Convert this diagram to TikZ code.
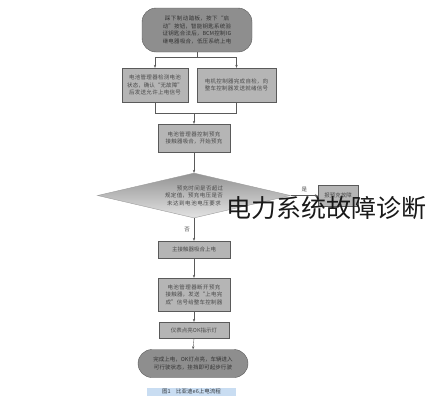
\documentclass[tikz,border=0pt]{standalone}
\usepackage{fontspec}
\newfontfamily\cjk{Noto Sans CJK SC}
\XeTeXlinebreaklocale "zh"
\XeTeXlinebreakskip=0pt plus 1pt
\usetikzlibrary{shapes.geometric,arrows.meta}
\definecolor{boxfill}{HTML}{B5B5B5}
\definecolor{termfill}{HTML}{8E8E8E}
\definecolor{edgegray}{HTML}{5A5A5A}
\definecolor{textgray}{HTML}{4A4A4A}
\definecolor{capblue}{HTML}{C9DDF2}
\tikzstyle{every node}=[font=\cjk\fontsize{5.5}{7.5}\selectfont, text=textgray, align=center]
\tikzstyle{procbox}=[rectangle, draw=edgegray, fill=boxfill, inner sep=1pt]
\tikzstyle{termbox}=[rectangle, rounded corners=14pt, draw=edgegray, fill=termfill, text=black!80, inner sep=1pt]
\tikzstyle{decbox}=[diamond, draw=edgegray!60, top color=gray!85, bottom color=gray!22, aspect=4, inner sep=0pt, text width=66pt, minimum width=193pt, minimum height=45pt]
\tikzstyle{flow}=[-{Stealth[length=3pt,width=2.4pt]}, draw=edgegray]

\begin{document}
\begin{tikzpicture}[x=1pt, y=-1pt, thin]
\useasboundingbox (0,0) rectangle (428,400);
% Boxes
    \node[termbox, minimum width=110pt, minimum height=44pt, text width=74pt] (start) at (197,30) {踩下制动踏板，按下“启动”按钮，智能钥匙系统验证钥匙合法后，BCM控制IG继电器吸合，低压系统上电};
    \node[procbox, minimum width=66pt, minimum height=34pt, text width=58pt] (bms) at (155,85) {电池管理器检测电池状态，确认“无故障”后发送允许上电信号};
    \node[procbox, minimum width=79pt, minimum height=34pt, text width=70pt] (mcu) at (236.5,85) {电机控制器完成自检，向整车控制器发送就绪信号};
    \node[procbox, minimum width=72pt, minimum height=28pt, text width=62pt] (pre) at (194,138) {电池管理器控制预充接触器吸合，开始预充};
    \node[decbox] (chk) at (194,195.5) {\hspace*{12pt}预充时间是否超过规定值，预充电压是否未达到电池电压要求};
    \node[procbox, minimum width=40pt, minimum height=21pt] (err) at (338,195.5) {报预充故障};
    \node[procbox, minimum width=72pt, minimum height=17pt] (main) at (194,249.5) {主接触器吸合上电};
    \node[procbox, minimum width=72pt, minimum height=33pt, text width=62pt] (done) at (194,294.5) {电池管理器断开预充接触器，发送“上电完成”信号给整车控制器};
    \node[procbox, minimum width=70pt, minimum height=16pt] (lamp) at (194,330) {仪表点亮OK指示灯};
    \node[termbox, minimum width=110pt, minimum height=28pt, text width=80pt] (ready) at (193,363.5) {完成上电，OK灯点亮，车辆进入可行驶状态，挂挡即可起步行驶};
% Connectors
    \draw[draw=edgegray] (start.south) -- ++(0,5) coordinate (split);
    \draw[flow] (split) -| (bms.north);
    \draw[flow] (split) -| (mcu.north);
    \coordinate (join) at (194,113);
    \draw[draw=edgegray] (bms.south) |- (join);
    \draw[draw=edgegray] (mcu.south) |- (join);
    \draw[flow] (join) -- (pre.north);
    \draw[flow] (pre.south) -- (chk.north);
    \draw[flow] (chk.east) -- node[above, inner sep=3pt] {是} (err.west);
    \draw[flow] (chk.south) -- node[left, inner sep=4pt] {否} (main.north);
    \draw[flow] (main.south) -- (done.north);
    \draw[flow] (done.south) -- (lamp.north);
    \draw[flow] (lamp.south) -- (ready.north);
% Caption and mark
    \node[fill=capblue, text=capblue!25!black, minimum width=89pt, minimum height=8pt, inner sep=0pt, font=\cjk\fontsize{5.5}{6}\selectfont] (cap) at (191.5,391.5) {图1\quad 比亚迪e6上电流程};
    \node[anchor=west, inner sep=0pt, text=black!90, font=\cjk\fontsize{25}{25}\selectfont] (mark) at (226,208) {电力系统故障诊断};
\end{tikzpicture}
\end{document}
